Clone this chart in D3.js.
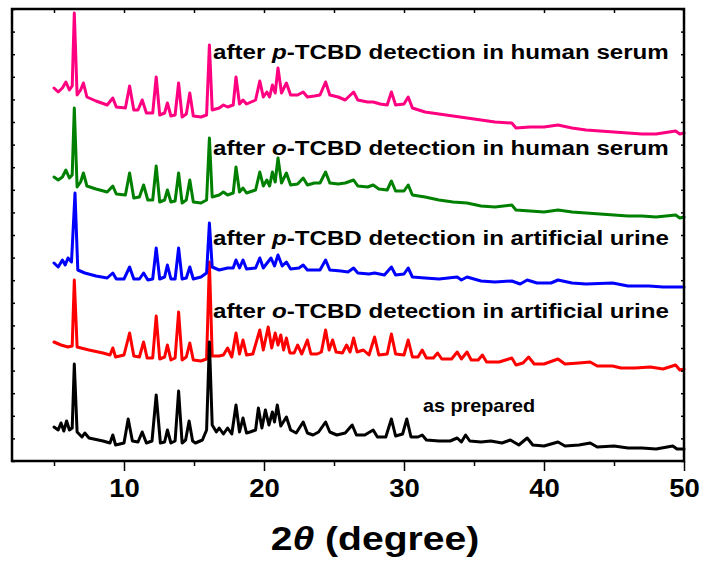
<!DOCTYPE html>
<html>
<head>
<meta charset="utf-8">
<script src="https://cdn.jsdelivr.net/npm/d3@7"></script>
<style>
  body { margin: 0; background: #fff; }
  text { font-family: Arial, "Liberation Sans", sans-serif; font-weight: bold; }
</style>
</head>
<body>
<svg id="chart" width="705" height="563"></svg>
<script>
const width = 705;
const height = 563;
const margin = { top: 9, right: 21, bottom: 102, left: 12 };

// x axis ticks
const majorTicks = [10, 20, 30, 40, 50];
const minorTicks = [5, 15, 25, 35, 45];

// XRD patterns, [2theta, intensity (a.u., stacked)]
const asPrepared = [
  [5.0, 34], [5.3, 31], [5.5, 38], [5.7, 30], [5.9, 40], [6.1, 31], [6.3, 33], [6.45, 97], [6.65, 29],
  [7.0, 24], [7.2, 28], [7.5, 23], [8.5, 20], [9.0, 18], [9.2, 26], [9.4, 16], [10.0, 18], [10.3, 42],
  [10.6, 20], [11.0, 19], [11.3, 29], [11.6, 18], [12.0, 20], [12.3, 66], [12.6, 18], [12.9, 19],
  [13.1, 31], [13.35, 18], [13.65, 20], [13.9, 70], [14.15, 18], [14.4, 21], [14.65, 40], [14.9, 20],
  [15.1, 18], [15.6, 21], [15.9, 31], [16.1, 119], [16.3, 36], [16.6, 29], [16.8, 33], [17.1, 27],
  [17.4, 33], [17.7, 27], [18.0, 56], [18.25, 29], [18.5, 43], [18.75, 28], [19.0, 29], [19.4, 31],
  [19.6, 53], [19.85, 33], [20.1, 51], [20.35, 36], [20.6, 49], [20.75, 39], [20.95, 56], [21.2, 35],
  [21.6, 44], [21.9, 31], [22.3, 28], [22.8, 39], [23.1, 28], [23.5, 26], [23.9, 29], [24.4, 39],
  [24.7, 29], [25.2, 26], [25.8, 28], [26.3, 36], [26.6, 26], [27.2, 26], [27.8, 31], [28.1, 24],
  [28.7, 24], [29.1, 42], [29.4, 25], [29.9, 27], [30.2, 42], [30.5, 24], [31.0, 24], [31.3, 26],
  [31.6, 21], [32.5, 20], [33.3, 20], [33.8, 23], [34.1, 19], [34.4, 26], [34.7, 20], [35.5, 19],
  [36.2, 20], [37.0, 18], [37.6, 21], [38.2, 16], [38.8, 23], [39.2, 16], [40.0, 15], [41.0, 19],
  [41.5, 15], [42.5, 16], [43.3, 18], [43.8, 14], [45.0, 15], [46.0, 13], [47.0, 13], [48.0, 12],
  [49.2, 15], [49.5, 12], [50.0, 12]
];

const oUrine = [
  [5.0, 119], [5.5, 116], [6.0, 114], [6.3, 115], [6.45, 181], [6.65, 114], [7.5, 111], [8.5, 108],
  [9.0, 106], [9.2, 113], [9.4, 104], [10.0, 106], [10.4, 128], [10.7, 105], [11.1, 104], [11.4, 119],
  [11.65, 103], [12.05, 103], [12.3, 145], [12.55, 102], [12.9, 104], [13.1, 116], [13.35, 101],
  [13.65, 103], [13.9, 149], [14.15, 101], [14.45, 104], [14.7, 118], [14.95, 101], [15.5, 100],
  [15.9, 102], [16.1, 199], [16.3, 105], [16.8, 105], [17.1, 106], [17.4, 113], [17.7, 104],
  [18.0, 128], [18.25, 107], [18.5, 121], [18.75, 106], [19.2, 107], [19.7, 131], [19.95, 111],
  [20.3, 134], [20.55, 113], [20.8, 128], [21.0, 116], [21.2, 126], [21.4, 111], [21.6, 123],
  [21.85, 108], [22.15, 108], [22.4, 116], [22.7, 107], [23.1, 121], [23.35, 107], [23.8, 107],
  [24.1, 109], [24.4, 131], [24.65, 111], [24.9, 121], [25.15, 109], [25.6, 108], [25.9, 116],
  [26.15, 109], [26.4, 123], [26.65, 109], [27.1, 111], [27.5, 106], [27.9, 124], [28.2, 106],
  [28.8, 107], [29.1, 127], [29.4, 107], [30.0, 106], [30.3, 121], [30.6, 104], [31.0, 104],
  [31.3, 111], [31.6, 103], [32.1, 103], [32.4, 108], [32.7, 102], [33.4, 102], [33.8, 109],
  [34.1, 102], [34.5, 109], [34.8, 101], [35.3, 101], [35.6, 106], [35.9, 99], [36.8, 99],
  [37.7, 103], [38.0, 96], [38.5, 98], [38.9, 104], [39.3, 97], [40.0, 97], [41.0, 102], [41.5, 97],
  [42.5, 98], [43.3, 99], [43.8, 95], [44.9, 95], [45.5, 93], [46.5, 93], [47.6, 94], [48.5, 92],
  [49.4, 96], [49.7, 91], [50.0, 92]
];

const pUrine = [
  [5.0, 198], [5.3, 194], [5.6, 201], [5.8, 196], [6.0, 203], [6.25, 199], [6.5, 268], [6.7, 191],
  [7.2, 188], [8.0, 185], [8.8, 183], [9.2, 188], [9.45, 182], [10.0, 182], [10.4, 194], [10.7, 182],
  [11.1, 182], [11.4, 188], [11.7, 181], [12.05, 182], [12.3, 213], [12.55, 182], [12.9, 184],
  [13.1, 196], [13.35, 182], [13.65, 182], [13.9, 213], [14.15, 182], [14.45, 183], [14.7, 194],
  [14.95, 182], [15.5, 184], [15.9, 188], [16.1, 238], [16.3, 194], [16.8, 191], [17.4, 193],
  [17.8, 193], [18.0, 201], [18.25, 193], [18.5, 201], [18.75, 192], [19.4, 193], [19.7, 203],
  [19.95, 193], [20.5, 203], [20.75, 195], [21.0, 206], [21.3, 195], [21.6, 199], [21.9, 192],
  [22.5, 193], [22.8, 196], [23.1, 191], [24.0, 191], [24.4, 201], [24.7, 191], [25.5, 190],
  [26.0, 189], [26.4, 193], [26.7, 188], [27.5, 187], [27.9, 188], [28.6, 186], [29.1, 194],
  [29.4, 186], [30.0, 187], [30.3, 193], [30.6, 184], [31.5, 183], [32.5, 182], [33.8, 184],
  [34.1, 181], [34.5, 184], [35.5, 180], [36.5, 179], [37.7, 180], [38.3, 177], [38.8, 181],
  [39.5, 178], [40.5, 178], [41.0, 181], [42.0, 178], [43.0, 177], [44.9, 178], [46.0, 175],
  [47.5, 175], [48.5, 174], [50.0, 174]
];

const oSerum = [
  [5.0, 284], [5.3, 281], [5.6, 284], [5.85, 291], [6.1, 283], [6.3, 286], [6.45, 353], [6.65, 274],
  [6.9, 279], [7.1, 288], [7.35, 275], [8.0, 272], [8.8, 269], [9.2, 275], [9.45, 267], [10.1, 266],
  [10.4, 288], [10.7, 263], [11.1, 264], [11.4, 276], [11.7, 261], [12.05, 261], [12.3, 295],
  [12.55, 259], [12.9, 261], [13.1, 271], [13.35, 259], [13.65, 260], [13.9, 288], [14.15, 258],
  [14.45, 261], [14.7, 281], [14.95, 259], [15.5, 258], [15.9, 261], [16.1, 323], [16.3, 264],
  [16.8, 266], [17.1, 269], [17.4, 266], [17.8, 268], [18.0, 294], [18.25, 269], [18.5, 273],
  [18.75, 268], [19.4, 271], [19.7, 289], [19.95, 275], [20.2, 281], [20.4, 275], [20.6, 289],
  [20.8, 279], [21.0, 303], [21.25, 278], [21.6, 288], [21.9, 276], [22.4, 277], [22.8, 283],
  [23.1, 276], [23.6, 278], [24.0, 278], [24.4, 289], [24.7, 278], [25.3, 277], [25.8, 278],
  [26.4, 281], [26.7, 275], [27.4, 274], [27.8, 276], [28.2, 272], [28.8, 271], [29.1, 280],
  [29.4, 270], [30.0, 270], [30.3, 276], [30.6, 266], [31.5, 264], [32.5, 261], [33.5, 259],
  [34.5, 258], [35.5, 255], [36.5, 254], [37.7, 256], [38.0, 251], [39.0, 250], [40.0, 249],
  [41.0, 251], [42.0, 249], [43.0, 248], [44.0, 247], [45.0, 246], [46.0, 245], [47.0, 245],
  [48.0, 244], [49.4, 246], [49.7, 243], [50.0, 244]
];

const pSerum = [
  [5.0, 373], [5.3, 369], [5.6, 373], [5.85, 379], [6.1, 371], [6.3, 375], [6.45, 448], [6.65, 366],
  [6.9, 371], [7.1, 378], [7.35, 364], [8.0, 360], [8.8, 356], [9.2, 363], [9.45, 354], [10.1, 353],
  [10.4, 375], [10.7, 351], [11.0, 351], [11.3, 361], [11.6, 348], [12.05, 348], [12.3, 384],
  [12.55, 346], [12.9, 348], [13.1, 358], [13.35, 345], [13.65, 346], [13.9, 378], [14.15, 344],
  [14.45, 347], [14.7, 368], [14.95, 345], [15.5, 344], [15.9, 346], [16.1, 416], [16.3, 351],
  [16.8, 353], [17.1, 356], [17.4, 354], [17.8, 356], [18.0, 384], [18.25, 357], [18.5, 361],
  [18.75, 357], [19.4, 361], [19.7, 380], [19.95, 364], [20.2, 369], [20.4, 364], [20.6, 376],
  [20.8, 368], [21.0, 393], [21.25, 368], [21.6, 378], [21.9, 366], [22.4, 366], [22.8, 369],
  [23.1, 364], [23.6, 365], [24.0, 366], [24.4, 379], [24.7, 366], [25.3, 364], [25.8, 361],
  [26.4, 369], [26.7, 361], [27.4, 359], [27.8, 359], [28.3, 357], [28.8, 356], [29.1, 369],
  [29.4, 356], [30.0, 357], [30.3, 364], [30.6, 353], [31.5, 349], [32.5, 347], [33.5, 345],
  [34.5, 343], [35.5, 341], [36.5, 339], [37.7, 338], [38.0, 333], [39.0, 334], [40.0, 334],
  [41.0, 336], [42.0, 333], [43.0, 331], [44.0, 330], [45.0, 329], [46.0, 328], [47.0, 327],
  [48.0, 327], [49.4, 330], [49.7, 327], [50.0, 328]
];

// label text: [before italic, italic letter, after italic]
const labels = [
  { name: "pSerum", parts: ["after ", "p", "-TCBD detection in human serum"], at: 402 },
  { name: "oSerum", parts: ["after ", "o", "-TCBD detection in human serum"], at: 306 },
  { name: "pUrine", parts: ["after ", "p", "-TCBD detection in artificial urine"], at: 216 },
  { name: "oUrine", parts: ["after ", "o", "-TCBD detection in artificial urine"], at: 143 },
  { name: "asPrepared", parts: ["as prepared", "", ""], at: 49 }
];

const series = [
  { name: "oUrine", color: "#ff0000", values: oUrine },
  { name: "asPrepared", color: "#000000", values: asPrepared },
  { name: "pUrine", color: "#0000ff", values: pUrine },
  { name: "oSerum", color: "#008000", values: oSerum },
  { name: "pSerum", color: "#ff0080", values: pSerum }
];

const svg = d3.select("#chart");

const x = d3.scaleLinear()
  .domain([2, 50])
  .range([margin.left, width - margin.right]);

const y = d3.scaleLinear()
  .domain([0, 452])
  .range([height - margin.bottom, margin.top]);

const plotBottom = height - margin.bottom;

// traces
const line = d3.line()
  .x((d) => x(d[0]))
  .y((d) => y(d[1]));

svg.append("g")
  .selectAll("path")
  .data(series)
  .join("path")
    .attr("d", (d) => line(d.values))
    .attr("fill", "none")
    .attr("stroke", (d) => d.color)
    .attr("stroke-width", 3)
    .attr("stroke-linejoin", "round")
    .attr("stroke-linecap", "round");

// axes
const yTicks = d3.range(0, 453, 22.6);

const bottom = svg.append("g")
  .attr("transform", `translate(0,${plotBottom})`)
  .call(d3.axisBottom(x).tickValues(majorTicks).tickSize(10).tickPadding(8));
bottom.selectAll("text")
  .attr("font-size", 25)
  .attr("fill", "#000")
  .attr("transform", "scale(1.1,1)");

svg.append("g")
  .attr("transform", `translate(0,${plotBottom})`)
  .call(d3.axisBottom(x).tickValues(minorTicks).tickSize(5).tickFormat(""));

svg.append("g")
  .attr("transform", `translate(0,${margin.top})`)
  .call(d3.axisTop(x).tickValues(d3.range(5, 50, 5)).tickSize(-4).tickFormat(""));

svg.append("g")
  .attr("transform", `translate(${margin.left},0)`)
  .call(d3.axisLeft(y).tickValues(yTicks).tickSize(-3).tickFormat(""));

svg.append("g")
  .attr("transform", `translate(${width - margin.right},0)`)
  .call(d3.axisRight(y).tickValues(yTicks).tickSize(-3).tickFormat(""));

svg.selectAll(".domain").remove();
svg.selectAll(".tick line").attr("stroke", "#000").attr("stroke-width", 1.5);

// frame
svg.append("rect")
  .attr("x", margin.left)
  .attr("y", margin.top)
  .attr("width", width - margin.left - margin.right)
  .attr("height", plotBottom - margin.top)
  .attr("fill", "none")
  .attr("stroke", "#000")
  .attr("stroke-width", 2.5);

// labels
const lab = svg.append("g")
  .selectAll("text")
  .data(labels)
  .join("text")
    .attr("transform", (d) => {
      if (d.name === "asPrepared") return `translate(423,412) scale(1.1,1)`;
      return `translate(213,${y(d.at)}) scale(1.15,1)`;
    })
    .attr("font-size", (d) => d.name === "asPrepared" ? 18 : 21)
    .attr("fill", "#000");

lab.append("tspan").text((d) => d.parts[0]);
lab.append("tspan").attr("font-style", "italic").text((d) => d.parts[1]);
lab.append("tspan").text((d) => d.parts[2]);

// x title
const title = svg.append("text")
  .attr("transform", `translate(375,550) scale(1.15,1)`)
  .attr("text-anchor", "middle")
  .attr("font-size", 34)
  .attr("fill", "#000");
title.append("tspan").text("2");
title.append("tspan").attr("font-style", "italic").text("θ");
title.append("tspan").text(" (degree)");
</script>
</body>
</html>
